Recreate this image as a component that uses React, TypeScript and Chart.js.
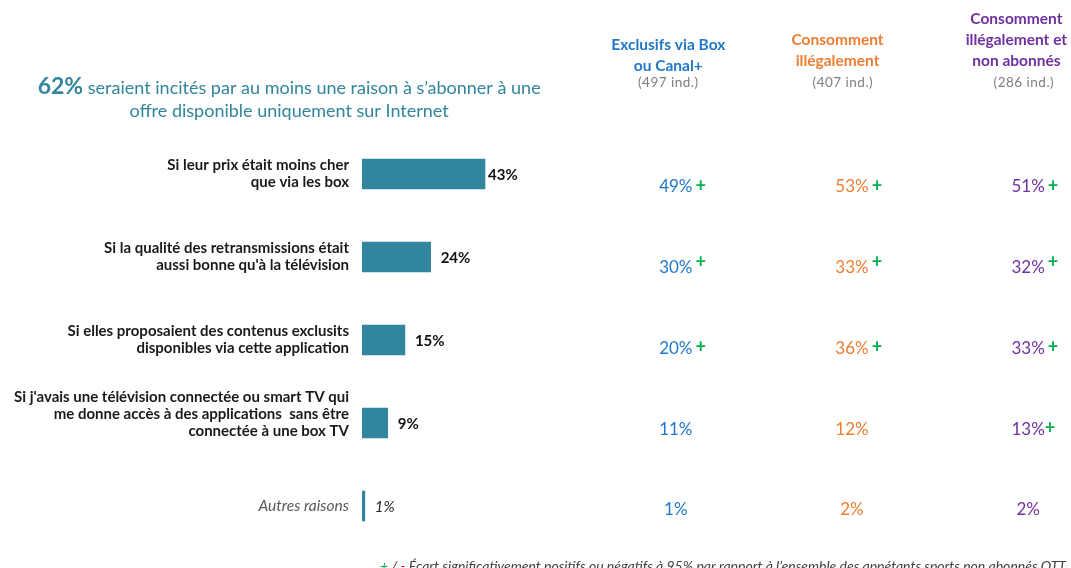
import React, { useEffect, useRef } from "react";
import { Chart, registerables } from "chart.js";

Chart.register(...registerables);

const categories: string[][] = [
  ["Si leur prix était moins cher", "que via les box"],
  ["Si la qualité des retransmissions était", "aussi bonne qu'à la télévision"],
  ["Si elles proposaient des contenus exclusits", "disponibles via cette application"],
  ["Si j'avais une télévision connectée ou smart TV qui", "me donne accès à des applications  sans être", "connectée à une box TV", ""],
  ["Autres raisons"],
];
const totalValues = [43, 24, 15, 9, 1];

const columnTitles: string[][] = [
  ["Exclusifs via Box", "ou Canal+"],
  ["Consomment", "illégalement"],
  ["Consomment", "illégalement et", "non abonnés"],
];
const columnBases = ["(497 ind.)", "(407 ind.)", "(286 ind.)"];

const exclusifsValues = [49, 30, 20, 11, 1];
const illegauxValues = [53, 33, 36, 12, 2];
const illegauxNonAbonnesValues = [51, 32, 33, 13, 2];

const exclusifsSig = [true, true, true, false, false];
const illegauxSig = [true, true, true, false, false];
const illegauxNonAbonnesSig = [true, true, true, true, false];

const titleHighlight = "62%";
const titleLine1 = " seraient incités par au moins une raison à s’abonner à une";
const titleLine2 = "offre disponible uniquement sur Internet";
const footnote = " Écart significativement positifs ou négatifs à 95% par rapport à l’ensemble des appétants sports non abonnés OTT";

const TEAL = "#31859C";
const COL_COLORS = ["#2178C9", "#ED7D31", "#7030A0"];
const GREEN = "#00B050";
const FONT = "Lato, 'Noto Sans', sans-serif";

const overlayPlugin = {
  id: "overlay",
  afterDraw(chart: any) {
    const ctx = chart.ctx as CanvasRenderingContext2D;
    const W = chart.width;
    const x = chart.scales.x;
    const y = chart.scales.y;
    ctx.save();

    // data labels next to bars
    totalValues.forEach((v, i) => {
      const last = i === totalValues.length - 1;
      ctx.font = last ? `italic 15px ${FONT}` : `bold 15px ${FONT}`;
      ctx.fillStyle = last ? "#262626" : "#111111";
      ctx.textAlign = "left";
      ctx.textBaseline = "middle";
      const px = x.getPixelForValue(v) + (i === 0 ? 3 : 10);
      ctx.fillText(`${v}%`, px, y.getPixelForValue(i) + 1);
    });

    // title
    ctx.fillStyle = TEAL;
    ctx.textBaseline = "middle";
    ctx.textAlign = "left";
    ctx.font = `bold 23px ${FONT}`;
    const hw = ctx.measureText(titleHighlight).width;
    ctx.font = `18px ${FONT}`;
    const rw = ctx.measureText(titleLine1).width;
    const cx = W * 0.27;
    let tx = cx - (hw + rw) / 2;
    ctx.font = `bold 23px ${FONT}`;
    ctx.fillText(titleHighlight, tx, 87);
    ctx.font = `18px ${FONT}`;
    ctx.fillText(titleLine1, tx + hw, 88);
    ctx.textAlign = "center";
    ctx.fillText(titleLine2, cx, 111);

    // columns
    const colCenters = [W * 0.631, W * 0.7955, W * 0.96];
    const headCenters = [W * 0.624, W * 0.782, W * 0.949];
    const baseCenters = [W * 0.624, W * 0.787, W * 0.956];
    const lastLineY = [66, 61, 61];
    const colValues = [exclusifsValues, illegauxValues, illegauxNonAbonnesValues];
    const colSig = [exclusifsSig, illegauxSig, illegauxNonAbonnesSig];
    const n = totalValues.length;
    const yTop = y.getPixelForValue(0) + 13;
    const yBot = y.getPixelForValue(n - 1) + 4;

    colValues.forEach((vals, c) => {
      ctx.textAlign = "center";
      ctx.fillStyle = COL_COLORS[c];
      ctx.font = `bold 15.5px ${FONT}`;
      const lines = columnTitles[c];
      lines.forEach((ln, k) => {
        ctx.fillText(ln, headCenters[c], lastLineY[c] - (lines.length - 1 - k) * 21);
      });
      ctx.fillStyle = "#7F7F7F";
      ctx.font = `13.5px ${FONT}`;
      (ctx as any).letterSpacing = "0.5px";
      ctx.fillText(columnBases[c], baseCenters[c], 83);
      (ctx as any).letterSpacing = "0px";

      vals.forEach((v, i) => {
        const yy = yTop + ((yBot - yTop) * i) / (n - 1);
        ctx.font = `17px ${FONT}`;
        ctx.fillStyle = COL_COLORS[c];
        ctx.textAlign = "center";
        const txt = `${v}%`;
        ctx.fillText(txt, colCenters[c], yy);
        if (colSig[c][i]) {
          const tw = ctx.measureText(txt).width;
          ctx.font = `bold 18px ${FONT}`;
          ctx.fillStyle = GREEN;
          ctx.textAlign = "left";
          const gap = c === 2 && i === 3 ? 0 : 3;
          ctx.fillText("+", colCenters[c] + tw / 2 + gap, yy - (i === 1 ? 6 : 1));
        }
      });
    });

    // footnote
    ctx.textAlign = "left";
    ctx.textBaseline = "middle";
    ctx.font = `italic 14px ${FONT}`;
    let fx = 380;
    const fy = 566;
    const parts: [string, string][] = [
      ["+", GREEN],
      [" / ", "#404040"],
      ["-", "#FF0000"],
      [footnote, "#404040"],
    ];
    parts.forEach(([t, col]) => {
      ctx.fillStyle = col;
      ctx.fillText(t, fx, fy);
      fx += ctx.measureText(t).width;
    });

    ctx.restore();
  },
};

export default function App() {
  const ref = useRef<HTMLCanvasElement>(null);
  useEffect(() => {
    document.body.style.margin = "0";
    const canvas = ref.current!;
    const chart = new Chart(canvas, {
      type: "bar",
      data: {
        labels: categories as any,
        datasets: [
          {
            data: totalValues,
            backgroundColor: TEAL,
            barThickness: 30,
          },
        ],
      },
      options: {
        indexAxis: "y",
        animation: false,
        responsive: false,
        layout: { padding: { top: 132.5, bottom: 20.5, right: 423, left: 0 } },
        scales: {
          x: { display: false, min: 0, max: 100 },
          y: {
            grid: { display: false, drawTicks: false },
            border: { display: false },
            afterFit: (s: any) => {
              s.width = 362;
              s.paddingTop = 0;
              s.paddingBottom = 0;
            },
            ticks: {
              padding: 13,
              font: (c: any) =>
                c.index === categories.length - 1
                  ? { family: FONT, size: 15.5, style: "italic", weight: "normal", lineHeight: "17px" }
                  : { family: FONT, size: 15, weight: "bold", lineHeight: "17px" },
              color: (c: any) => (c.index === categories.length - 1 ? "#595959" : "#1A1A1A"),
            },
          },
        },
        plugins: {
          legend: { display: false },
          tooltip: { enabled: false },
        },
      },
      plugins: [overlayPlugin],
    });
    return () => chart.destroy();
  }, []);
  return (
    <div style={{ width: 1071, height: 568, background: "#fff" }}>
      <canvas ref={ref} width={1071} height={568} style={{ display: "block" }} />
    </div>
  );
}
